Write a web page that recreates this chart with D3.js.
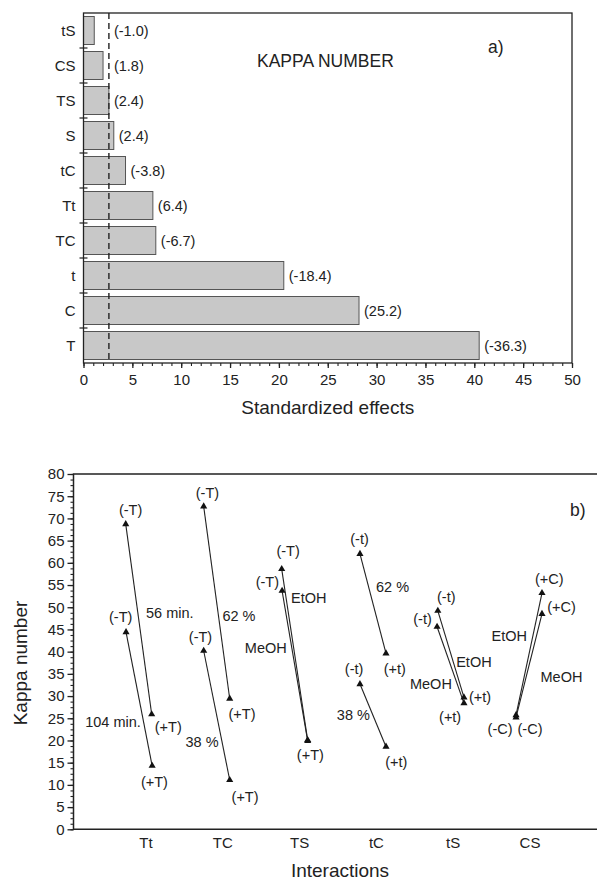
<!DOCTYPE html>
<html>
<head>
<meta charset="utf-8">
<script src="https://cdn.jsdelivr.net/npm/d3@7"></script>
<style>
  body { margin: 0; background: #fff; }
  svg { display: block; font-family: "Liberation Sans", Arial, sans-serif; }
</style>
</head>
<body>
<div id="chart"></div>
<script>
// ---- panel a) standardized effects ----
const effectNames = ["tS", "CS", "TS", "S", "tC", "Tt", "TC", "t", "C", "T"];
const effectBars = [1.1, 2.0, 2.6, 3.1, 4.3, 7.1, 7.4, 20.5, 28.2, 40.5];
const effectLabels = ["(-1.0)", "(1.8)", "(2.4)", "(2.4)", "(-3.8)", "(6.4)", "(-6.7)", "(-18.4)", "(25.2)", "(-36.3)"];
const criticalValue = 2.6;
const effectTicks = d3.range(0, 51, 5);

// ---- panel b) interactions ----
const interactions = ["Tt", "TC", "TS", "tC", "tS", "CS"];
// [x start, kappa start, x end, kappa end], x in interaction units
const segments = [
  [0.736, 68.7, 1.074, 25.9],
  [0.740, 44.4, 1.080, 14.3],
  [1.751, 72.7, 2.090, 29.4],
  [1.751, 40.2, 2.090, 11.1],
  [2.767, 58.6, 3.105, 20.1],
  [2.772, 53.7, 3.105, 19.9],
  [3.786, 62.0, 4.125, 39.6],
  [3.786, 32.7, 4.125, 18.6],
  [4.800, 49.2, 5.140, 29.7],
  [4.790, 45.6, 5.140, 28.4],
  [5.818, 25.7, 6.156, 53.2],
  [5.818, 25.2, 6.156, 48.5]
];
const kappaTicks = d3.range(0, 81, 5);
// [text, x, kappa]
const notes = [
  ["(-T)", 0.80, 70.7], ["(-T)", 1.80, 74.7], ["(-T)", 2.85, 61.6], ["(-T)", 2.58, 54.6],
  ["(-T)", 0.67, 46.7], ["56 min.", 1.31, 47.5], ["62 %", 2.21, 46.8], ["(-T)", 1.71, 42.2],
  ["EtOH", 3.12, 50.9], ["MeOH", 2.56, 39.6], ["(+T)", 1.29, 21.9], ["104 min.", 0.57, 23.1],
  ["(+T)", 2.25, 24.9], ["38 %", 1.73, 18.6], ["(+T)", 1.11, 9.5], ["(+T)", 2.29, 6.1],
  ["(+T)", 3.14, 15.5], ["(-t)", 3.78, 64.3], ["62 %", 4.21, 53.5], ["(+t)", 4.24, 35.0],
  ["(-t)", 3.71, 35.0], ["38 %", 3.70, 24.6], ["(+t)", 4.26, 14.0], ["(-t)", 4.91, 51.2],
  ["(-t)", 4.60, 46.3], ["EtOH", 5.27, 36.6], ["MeOH", 4.71, 31.6], ["(+t)", 5.35, 28.7],
  ["(+t)", 4.96, 24.2], ["(+C)", 6.25, 55.3], ["(+C)", 6.41, 48.9], ["EtOH", 5.73, 42.5],
  ["MeOH", 6.41, 33.2], ["(-C)", 5.61, 21.5], ["(-C)", 6.00, 21.5]
];

const width = 597, height = 880;
const ink = "#222";

const svg = d3.select("#chart").append("svg")
  .attr("width", width)
  .attr("height", height);

/* ------------------------------- panel a ------------------------------- */
const A = { left: 83.5, right: 572, top: 13, bottom: 363 };
const xE = d3.scaleLinear().domain([0, 50]).range([A.left, A.right]);
const yE = d3.scaleBand().domain(effectNames).range([A.top, A.bottom])
  .paddingInner(0.2).paddingOuter(0.1);

const ga = svg.append("g");

ga.selectAll("rect.bar")
  .data(effectNames)
  .join("rect")
  .attr("class", "bar")
  .attr("x", xE(0))
  .attr("y", d => yE(d))
  .attr("width", (d, i) => xE(effectBars[i]) - xE(0))
  .attr("height", yE.bandwidth())
  .attr("fill", "#c8c8c8")
  .attr("stroke", "#555")
  .attr("stroke-width", 1);

// critical value line
ga.append("line")
  .attr("x1", xE(criticalValue)).attr("x2", xE(criticalValue))
  .attr("y1", A.top).attr("y2", A.bottom)
  .attr("stroke", ink).attr("stroke-width", 1.4)
  .attr("stroke-dasharray", "6,4");

// frame
ga.append("rect")
  .attr("x", A.left).attr("y", A.top)
  .attr("width", A.right - A.left).attr("height", A.bottom - A.top)
  .attr("fill", "none").attr("stroke", ink).attr("stroke-width", 1.3);

// value labels
ga.selectAll("text.val")
  .data(effectNames)
  .join("text")
  .attr("class", "val")
  .attr("x", (d, i) => xE(Math.max(effectBars[i], criticalValue)) + 5)
  .attr("y", d => yE(d) + yE.bandwidth() / 2 + 5)
  .attr("font-size", 14.5)
  .attr("fill", ink)
  .text((d, i) => effectLabels[i]);

// category labels + boundary ticks
ga.selectAll("text.cat")
  .data(effectNames)
  .join("text")
  .attr("class", "cat")
  .attr("x", A.left - 8)
  .attr("y", d => yE(d) + yE.bandwidth() / 2 + 5.5)
  .attr("text-anchor", "end")
  .attr("font-size", 15)
  .attr("fill", ink)
  .text(d => d);

ga.selectAll("line.cattick")
  .data(d3.range(1, effectNames.length))
  .join("line")
  .attr("class", "cattick")
  .attr("x1", A.left - 4).attr("x2", A.left + 4)
  .attr("y1", k => A.top + k * yE.step())
  .attr("y2", k => A.top + k * yE.step())
  .attr("stroke", ink).attr("stroke-width", 1.2);

// x axis
const axA = ga.append("g").attr("transform", `translate(0,${A.bottom})`);
axA.call(d3.axisBottom(xE).tickValues(d3.range(0, 51, 1)).tickSize(3).tickFormat(""))
  .call(g => g.select(".domain").remove())
  .call(g => g.selectAll("line").attr("stroke", ink).attr("stroke-width", 1.1));
axA.append("g")
  .call(d3.axisBottom(xE).tickValues(effectTicks).tickSize(5).tickPadding(6))
  .call(g => g.select(".domain").remove())
  .call(g => g.selectAll("line").attr("stroke", ink).attr("stroke-width", 1.3))
  .call(g => g.selectAll("text").attr("font-size", 15).attr("fill", ink)
    .attr("font-family", "Liberation Sans, Arial, sans-serif"));

ga.append("text")
  .attr("x", (A.left + A.right) / 2).attr("y", 414)
  .attr("text-anchor", "middle").attr("font-size", 19).attr("fill", ink)
  .text("Standardized effects");

ga.append("text")
  .attr("x", 257).attr("y", 67)
  .attr("font-size", 17.5).attr("fill", ink)
  .text("KAPPA NUMBER");

ga.append("text")
  .attr("x", 488).attr("y", 53)
  .attr("font-size", 17.5).attr("fill", ink)
  .text("a)");

/* ------------------------------- panel b ------------------------------- */
const B = { left: 73.5, right: 597, top: 474, bottom: 829.3 };
const xI = d3.scaleLinear().domain([1, 6]).range([146, 530]);
const yI = d3.scaleLinear().domain([0, 80]).range([B.bottom, B.top]);

const gb = svg.append("g");

// frame lines (open at right)
gb.append("path")
  .attr("d", `M${B.right},${B.top}H${B.left}V${B.bottom}H${B.right}`)
  .attr("fill", "none").attr("stroke", ink).attr("stroke-width", 1.5);

// y axis ticks
const axB = gb.append("g").attr("transform", `translate(${B.left},0)`);
axB.call(d3.axisLeft(yI).tickValues(d3.range(0, 80.1, 1.25)).tickSize(3).tickFormat(""))
  .call(g => g.select(".domain").remove())
  .call(g => g.selectAll("line").attr("stroke", ink).attr("stroke-width", 1.1));
axB.append("g")
  .call(d3.axisLeft(yI).tickValues(kappaTicks).tickSize(6).tickPadding(3))
  .call(g => g.select(".domain").remove())
  .call(g => g.selectAll("line").attr("stroke", ink).attr("stroke-width", 1.3))
  .call(g => g.selectAll("text").attr("font-size", 15).attr("fill", ink)
    .attr("font-family", "Liberation Sans, Arial, sans-serif"));

// category labels
gb.selectAll("text.inter")
  .data(interactions)
  .join("text")
  .attr("class", "inter")
  .attr("x", (d, i) => xI(i + 1))
  .attr("y", 848)
  .attr("text-anchor", "middle")
  .attr("font-size", 15)
  .attr("fill", ink)
  .text(d => d);

// segments
gb.selectAll("line.seg")
  .data(segments)
  .join("line")
  .attr("class", "seg")
  .attr("x1", d => xI(d[0])).attr("y1", d => yI(d[1]))
  .attr("x2", d => xI(d[2])).attr("y2", d => yI(d[3]))
  .attr("stroke", ink).attr("stroke-width", 1.1);

const pts = segments.flatMap(d => [[d[0], d[1]], [d[2], d[3]]]);
const tri = d3.symbol().type(d3.symbolTriangle).size(22);
gb.selectAll("path.pt")
  .data(pts)
  .join("path")
  .attr("class", "pt")
  .attr("transform", d => `translate(${xI(d[0])},${yI(d[1])})`)
  .attr("d", tri)
  .attr("fill", "#111");

gb.selectAll("text.note")
  .data(notes)
  .join("text")
  .attr("class", "note")
  .attr("x", d => xI(d[1]))
  .attr("y", d => yI(d[2]))
  .attr("text-anchor", "middle")
  .attr("font-size", 14.5)
  .attr("fill", ink)
  .text(d => d[0]);

gb.append("text")
  .attr("transform", "translate(27,663) rotate(-90)")
  .attr("text-anchor", "middle").attr("font-size", 19).attr("fill", ink)
  .text("Kappa number");

gb.append("text")
  .attr("x", 340).attr("y", 877)
  .attr("text-anchor", "middle").attr("font-size", 19).attr("fill", ink)
  .text("Interactions");

gb.append("text")
  .attr("x", 570).attr("y", 516)
  .attr("font-size", 17.5).attr("fill", ink)
  .text("b)");
</script>
</body>
</html>
